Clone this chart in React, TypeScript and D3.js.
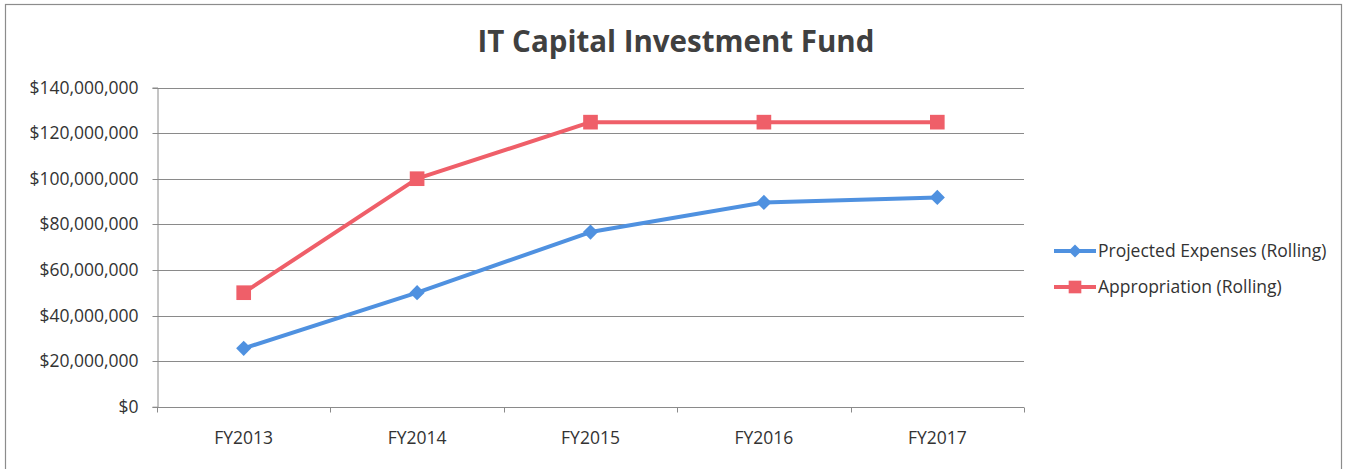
import React, { useEffect, useRef } from "react";
import * as d3 from "d3";

const categories = ["FY2013", "FY2014", "FY2015", "FY2016", "FY2017"];
const projectedExpenses = [25600000, 50000000, 76600000, 89600000, 91800000];
const appropriation = [50000000, 100000000, 124800000, 124800000, 124800000];
const yTicks = [0, 20000000, 40000000, 60000000, 80000000, 100000000, 120000000, 140000000];
const seriesNames = ["Projected Expenses (Rolling)", "Appropriation (Rolling)"];

const W = 1347;
const H = 469;
const BLUE = "#4f91e0";
const RED = "#ef5f69";
const FONT = "'Open Sans', 'Liberation Sans', sans-serif";

export default function App() {
  const ref = useRef<SVGSVGElement | null>(null);

  useEffect(() => {
    const svg = d3.select(ref.current);
    svg.selectAll("*").remove();

    const left = 157, right = 1024, top = 87.5, bottom = 406.7;
    const x = d3.scaleBand<string>().domain(categories).range([left, right]);
    const y = d3.scaleLinear().domain([0, 140000000]).range([bottom, top]);

    svg.append("rect").attr("x", 0).attr("y", 0).attr("width", W).attr("height", H).attr("fill", "#fff");
    svg.append("rect")
      .attr("x", 5.5).attr("y", 4.5).attr("width", 1336).attr("height", 470)
      .attr("fill", "none").attr("stroke", "#8c8c8c").attr("stroke-width", 1.2);

    svg.append("text")
      .attr("x", 676).attr("y", 52)
      .attr("text-anchor", "middle")
      .attr("font-family", FONT).attr("font-weight", 700).attr("font-size", 29.5)
      .attr("fill", "#404040")
      .text("IT Capital Investment Fund");

    // gridlines
    svg.append("g").selectAll("line").data(yTicks.filter((d) => d > 0)).join("line")
      .attr("x1", left).attr("x2", right)
      .attr("y1", (d) => Math.round(y(d)) + 0.5).attr("y2", (d) => Math.round(y(d)) + 0.5)
      .attr("stroke", "#8a8a8a").attr("stroke-width", 1);

    // y axis
    const yAxis = d3.axisLeft(y).tickValues(yTicks).tickSize(5).tickPadding(14)
      .tickFormat((d) => "$" + d3.format(",")(d as number));
    const gy = svg.append("g").attr("transform", `translate(${left + 0.5},0)`).call(yAxis);
    gy.select(".domain").attr("stroke", "#8a8a8a");
    gy.selectAll(".tick line").attr("stroke", "#8a8a8a");
    gy.selectAll(".tick text").attr("font-family", FONT).attr("font-size", 17.5).attr("fill", "#333");
    gy.selectAll(".tick").attr("transform", (d: any) => `translate(0,${Math.round(y(d)) + 0.5})`);

    // x axis
    const xb = Math.round(bottom) + 0.5;
    svg.append("line").attr("x1", left).attr("x2", right).attr("y1", xb).attr("y2", xb)
      .attr("stroke", "#8a8a8a");
    const bounds = categories.map((c) => x(c) as number).concat([right]);
    svg.append("g").selectAll("line").data(bounds).join("line")
      .attr("x1", (d) => Math.round(d) + 0.5).attr("x2", (d) => Math.round(d) + 0.5)
      .attr("y1", xb).attr("y2", xb + 5)
      .attr("stroke", "#8a8a8a");
    svg.append("g").selectAll("text").data(categories).join("text")
      .attr("x", (d) => (x(d) as number) + x.bandwidth() / 2)
      .attr("y", 444)
      .attr("text-anchor", "middle")
      .attr("font-family", FONT).attr("font-size", 17.5).attr("fill", "#333")
      .text((d) => d);

    const cx = (i: number) => (x(categories[i]) as number) + x.bandwidth() / 2;
    const line = d3.line<number>().x((_, i) => cx(i)).y((d) => y(d));

    const drawSeries = (vals: number[], color: string, marker: "diamond" | "square") => {
      svg.append("path").datum(vals).attr("d", line)
        .attr("fill", "none").attr("stroke", color).attr("stroke-width", 4)
        .attr("stroke-linejoin", "round");
      const sym = d3.symbol().type(d3.symbolSquare).size(marker === "diamond" ? 115 : 215);
      svg.append("g").selectAll("path").data(vals).join("path")
        .attr("d", sym)
        .attr("transform", (d, i) => `translate(${cx(i)},${y(d)})${marker === "diamond" ? " rotate(45)" : ""}`)
        .attr("fill", color);
    };
    drawSeries(projectedExpenses, BLUE, "diamond");
    drawSeries(appropriation, RED, "square");

    // legend
    const lg = svg.append("g");
    const items = [
      { name: seriesNames[0], color: BLUE, size: 85, rot: 45, yy: 251 },
      { name: seriesNames[1], color: RED, size: 160, rot: 0, yy: 287 },
    ];
    items.forEach((it) => {
      lg.append("line").attr("x1", 1054).attr("x2", 1096).attr("y1", it.yy).attr("y2", it.yy)
        .attr("stroke", it.color).attr("stroke-width", 4);
      lg.append("path").attr("d", d3.symbol().type(d3.symbolSquare).size(it.size)())
        .attr("transform", `translate(1075,${it.yy}) rotate(${it.rot})`).attr("fill", it.color);
      lg.append("text").attr("x", 1098).attr("y", it.yy + 6)
        .attr("font-family", FONT).attr("font-size", 17.5).attr("fill", "#333")
        .text(it.name);
    });
  }, []);

  return (
    <svg ref={ref} width={W} height={H}
      style={{ position: "absolute", left: 0, top: 0, display: "block" }} />
  );
}
